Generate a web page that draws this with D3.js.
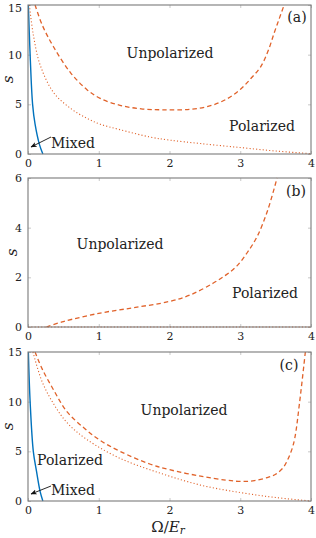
<!DOCTYPE html>
<html>
<head>
<meta charset="utf-8">
<script src="https://cdn.jsdelivr.net/npm/d3@7"></script>
<style>
  body { margin: 0; background: #fff; }
</style>
</head>
<body>
<svg id="chart" width="316" height="538"></svg>
<script>
const SERIF = "'DejaVu Serif', 'Liberation Serif', serif";

// x ticks shared by all panels
const xTicks = [0, 1, 2, 3, 4];

// panel (a)
const blueA = [[0.005, 15], [0.03, 10], [0.065, 5], [0.1, 3], [0.16, 1], [0.21, 0]];
const dashA = [[0.1, 15], [0.2, 13], [0.36, 10.8], [0.6, 8.2], [0.83, 6.5], [1.02, 5.6], [1.3, 4.9], [1.6, 4.55],
  [1.9, 4.45], [2.3, 4.5], [2.58, 4.86], [2.8, 5.5], [3.0, 6.5], [3.15, 7.6], [3.29, 8.8], [3.4, 10.5], [3.48, 12.2],
  [3.55, 13.6], [3.62, 15]];
const dotA = [[0.02, 15], [0.075, 12], [0.17, 9], [0.36, 6.2], [0.6, 4.6], [0.83, 3.6], [1.02, 3.0], [1.3, 2.45],
  [1.73, 1.7], [2.0, 1.4], [2.44, 1.05], [3.0, 0.65], [3.5, 0.3], [4.0, 0.03]];
const yTicksA = [0, 5, 10, 15];

// panel (b)
const dashB = [[0.26, 0], [0.5, 0.22], [1.02, 0.56], [1.5, 0.78], [2.0, 1.03], [2.3, 1.3], [2.62, 1.77], [2.8, 2.1],
  [2.95, 2.45], [3.1, 3.0], [3.24, 3.65], [3.39, 4.72], [3.52, 6]];
const dotB = [[0, 0], [4, 0]];
const yTicksB = [0, 2, 4, 6];

// panel (c)
const blueC = [[0.005, 15], [0.03, 10], [0.075, 5], [0.12, 3], [0.17, 1], [0.21, 0]];
const dashC = [[0.1, 15], [0.2, 13.3], [0.36, 11.2], [0.55, 9.0], [0.8, 7.3], [1.02, 6.1], [1.3, 5.0], [1.73, 3.7],
  [2.0, 3.15], [2.44, 2.5], [2.8, 2.1], [3.0, 1.97], [3.2, 2.05], [3.4, 2.4], [3.5, 2.7], [3.6, 3.3], [3.66, 4.0],
  [3.72, 5.0], [3.77, 6.3], [3.84, 10], [3.92, 15]];
const dotC = [[0.07, 15], [0.2, 12], [0.36, 9.8], [0.55, 7.9], [0.83, 6.2], [1.3, 4.3], [1.87, 2.8], [2.44, 1.6],
  [3.0, 0.85], [3.5, 0.35], [4, 0]];
const yTicksC = [0, 5, 10, 15];

const blue = "#0072bd", orange = "#e0622a";
const svg = d3.select("#chart");

svg.append("defs").append("marker")
  .attr("id", "arr").attr("viewBox", "0 0 10 10")
  .attr("refX", 9).attr("refY", 5)
  .attr("markerWidth", 7).attr("markerHeight", 7)
  .attr("orient", "auto-start-reverse")
  .append("path").attr("d", "M0,1 L10,5 L0,9 L2.5,5 Z").attr("fill", "#111");

const x = d3.scaleLinear().domain([0, 4]).range([28, 311]);

const panels = [
  { top: 5, bottom: 154, ymax: 15, ticks: yTicksA, ylx: 9,
    series: [[blueA, "solid"], [dotA, "dot"], [dashA, "dash"]],
    labels: [["Unpolarized", 170, 53], ["Polarized", 262, 126], ["(a)", 297, 17]],
    mixed: [73, 143, 51, 137, 31, 147] },
  { top: 178, bottom: 327, ymax: 6, ticks: yTicksB, ylx: 13,
    series: [[dotB, "dot"], [dashB, "dash"]],
    labels: [["Unpolarized", 120, 244], ["Polarized", 265, 293], ["(b)", 296, 191]] },
  { top: 352, bottom: 501, ymax: 15, ticks: yTicksC, ylx: 9,
    series: [[blueC, "solid"], [dotC, "dot"], [dashC, "dash"]],
    labels: [["Unpolarized", 184, 410], ["Polarized", 70, 460], ["(c)", 289, 365]],
    mixed: [73, 490, 51, 486, 31, 494] }
];

panels.forEach((p, i) => {
  const y = d3.scaleLinear().domain([0, p.ymax]).range([p.bottom, p.top]);
  const g = svg.append("g");

  // ticks (inside, on all four sides)
  const tickStyle = sel => {
    sel.attr("font-family", SERIF);
    sel.select(".domain").remove();
    sel.selectAll(".tick line").attr("stroke", "#c8c8c8");
    sel.selectAll("text").attr("font-size", 11).attr("fill", "#222").attr("font-family", SERIF);
  };
  g.append("g").attr("transform", `translate(0,${p.bottom})`)
    .call(d3.axisBottom(x).tickValues(xTicks).tickSizeInner(-3).tickSizeOuter(0).tickPadding(5).tickFormat(d3.format("d")))
    .call(tickStyle);
  g.append("g").attr("transform", `translate(0,${p.top})`)
    .call(d3.axisTop(x).tickValues(xTicks).tickSizeInner(-3).tickSizeOuter(0).tickFormat(""))
    .call(tickStyle);
  const yAx = g.append("g").attr("transform", `translate(${x(0)},0)`)
    .call(d3.axisLeft(y).tickValues(p.ticks).tickSizeInner(-3).tickSizeOuter(0).tickPadding(6).tickFormat(d3.format("d")))
    .call(tickStyle);
  // keep the top label of the first panel inside the page
  if (i === 0) yAx.selectAll(".tick text").filter(d => d === p.ymax).attr("dy", "0.55em");
  g.append("g").attr("transform", `translate(${x(4)},0)`)
    .call(d3.axisRight(y).tickValues(p.ticks).tickSizeInner(-3).tickSizeOuter(0).tickFormat(""))
    .call(tickStyle);

  svg.append("clipPath").attr("id", "clip" + i)
    .append("rect").attr("x", x(0)).attr("y", p.top - 1)
    .attr("width", x(4) - x(0)).attr("height", p.bottom - p.top + 2);

  const line = d3.line().x(d => x(d[0])).y(d => y(d[1])).curve(d3.curveCatmullRom.alpha(0.5));
  const lines = g.append("g").attr("clip-path", `url(#clip${i})`);
  p.series.forEach(([data, kind]) => {
    const path = lines.append("path").datum(data).attr("d", line).attr("fill", "none");
    if (kind === "solid") path.attr("stroke", blue).attr("stroke-width", 1.4);
    if (kind === "dash") path.attr("stroke", orange).attr("stroke-width", 1.3).attr("stroke-dasharray", "4.5,3");
    if (kind === "dot") path.attr("stroke", orange).attr("stroke-width", 1.1).attr("stroke-dasharray", "1.1,2.2");
  });

  // frame
  g.append("rect").attr("x", x(0)).attr("y", p.top)
    .attr("width", x(4) - x(0)).attr("height", p.bottom - p.top)
    .attr("fill", "none").attr("stroke", "#7a7a7a").attr("stroke-width", 1.1);

  // y label
  g.append("text").attr("transform", `translate(${p.ylx},${(p.top + p.bottom) / 2}) rotate(-90)`)
    .attr("text-anchor", "middle").attr("dominant-baseline", "middle").attr("fill", "#222")
    .attr("font-family", SERIF).attr("font-size", 15).attr("font-style", "italic").text("s");

  p.labels.forEach(([t, lx, ly]) => {
    g.append("text").attr("x", lx).attr("y", ly).attr("text-anchor", "middle").attr("fill", "#222")
      .attr("dominant-baseline", "central").attr("font-family", SERIF).attr("font-size", 14).text(t);
  });

  if (p.mixed) {
    const [tx, ty, ax1, ay1, ax2, ay2] = p.mixed;
    g.append("text").attr("x", tx).attr("y", ty).attr("text-anchor", "middle").attr("fill", "#222")
      .attr("dominant-baseline", "central").attr("font-family", SERIF).attr("font-size", 14).text("Mixed");
    g.append("line").attr("x1", ax1).attr("y1", ay1).attr("x2", ax2).attr("y2", ay2)
      .attr("stroke", "#111").attr("stroke-width", 0.9).attr("marker-end", "url(#arr)");
  }
});

// x label
const xl = svg.append("text").attr("x", 168).attr("y", 527).attr("text-anchor", "middle").attr("fill", "#222")
  .attr("dominant-baseline", "central").attr("font-family", SERIF).attr("font-size", 15);
xl.append("tspan").text("Ω/");
xl.append("tspan").attr("font-style", "italic").text("E");
xl.append("tspan").attr("font-style", "italic").attr("font-size", 10.5).attr("dy", 3).text("r");
</script>
</body>
</html>
